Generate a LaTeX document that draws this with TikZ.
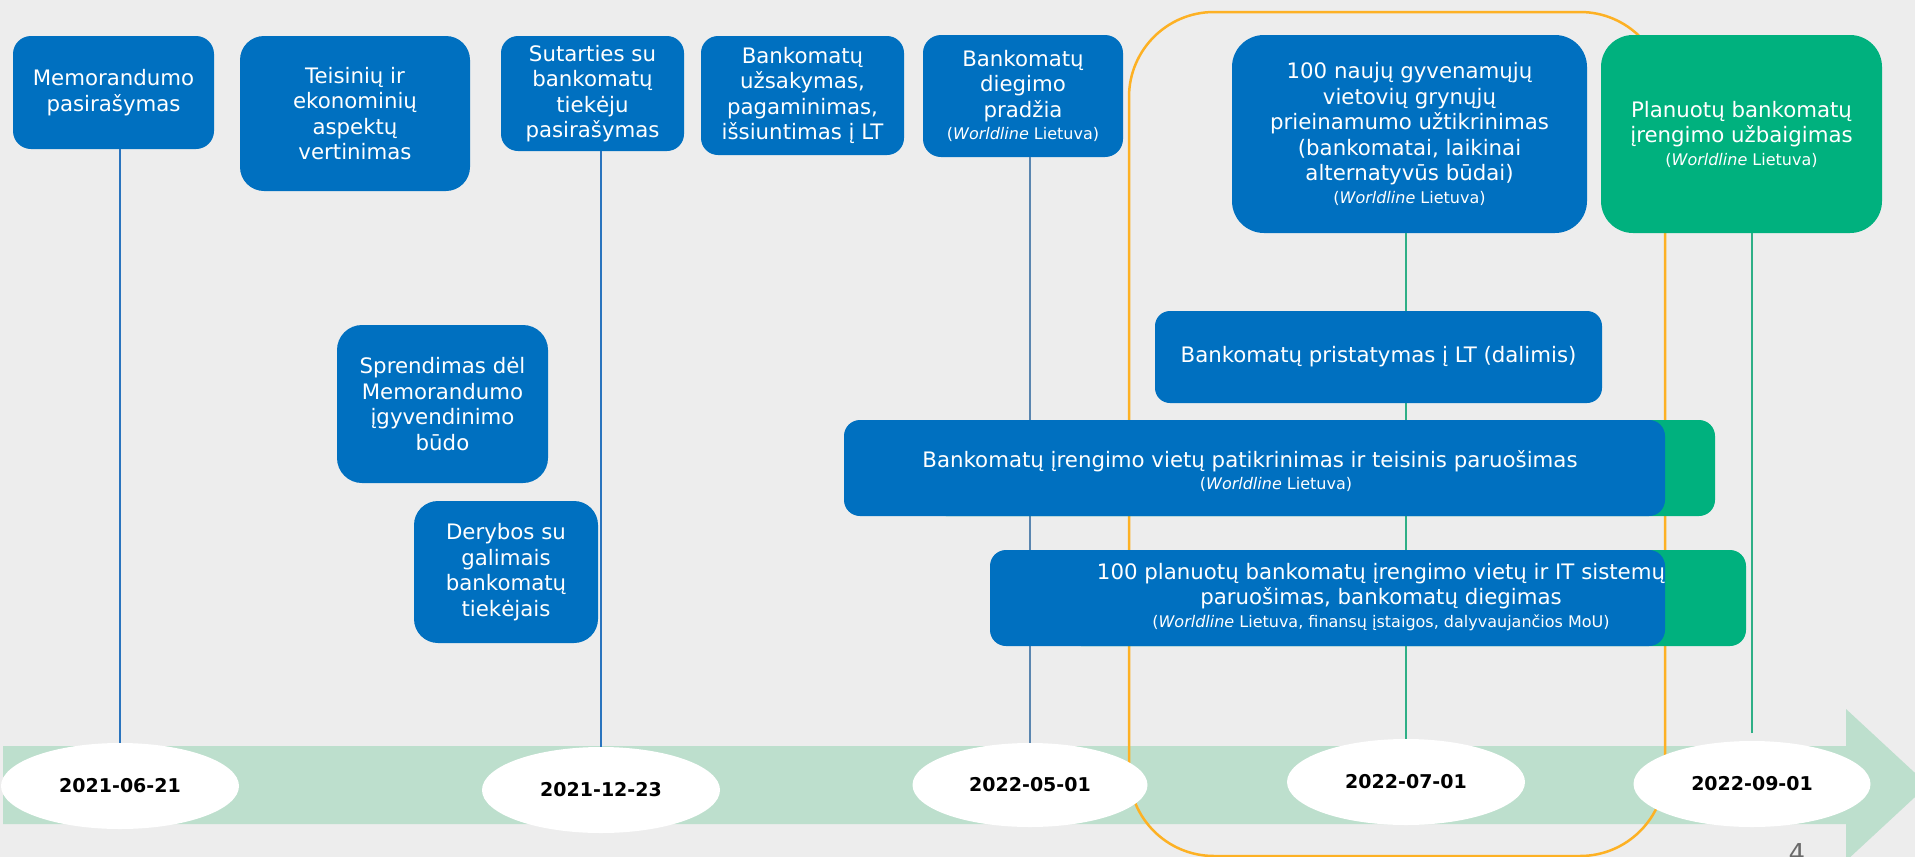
\documentclass[tikz,border=0pt]{standalone}
\usepackage{fontspec}
\setmainfont{DejaVu Sans}
\usetikzlibrary{shapes.geometric}
\definecolor{cbg}{HTML}{EDEDED}
\definecolor{cblue}{HTML}{0070C0}
\definecolor{cgreen}{HTML}{00B17E}
\definecolor{cband}{HTML}{BDDFCD}
\definecolor{corange}{HTML}{FDB124}
\definecolor{lblue}{HTML}{2A74BE}
\definecolor{lgray}{HTML}{5A86B0}
\definecolor{lgreen}{HTML}{2EAF86}
\definecolor{cpage}{HTML}{6A6A6A}
\newcommand{\mfont}{\fontsize{21.3}{25.5}\selectfont}
\newcommand{\sfont}{\fontsize{16}{19}\selectfont}
\newcommand{\dfont}{\fontsize{19}{22}\selectfont\bfseries}
\newcommand{\wlt}{{\sfont(\textit{Worldline} Lietuva)}}
\tikzset{
  box/.style={fill=cblue, text=white, align=center, inner sep=0pt, font=\mfont},
  gbox/.style={box, fill=cgreen},
  datenode/.style={ellipse, fill=white, inner sep=0pt, font=\dfont, text=black},
  tline/.style={line width=1.5pt},
  txt/.style={text=white, align=center, inner sep=0pt, font=\mfont},
}
\begin{document}
\begin{tikzpicture}[x=1pt,y=-1pt]
\useasboundingbox (0,0) rectangle (1915,857);
\clip (0,0) rectangle (1915,857);
\fill[cbg] (0,0) rectangle (1915,857);
% timeline band arrow
\fill[cband] (3,746) -- (1846,746) -- (1846,709) -- (1928,785) -- (1846,861) -- (1846,824) -- (3,824) -- cycle;
% orange frame
\draw[corange, line width=2.5pt, rounded corners=85pt] (1129,12) rectangle (1665,856);

% date ellipses
\node[datenode, minimum width=238pt, minimum height=86pt] (e1) at (120,786) {2021-06-21};
\node[datenode, minimum width=238pt, minimum height=86pt] (e2) at (601,790) {2021-12-23};
\node[datenode, minimum width=235pt, minimum height=84pt] (e3) at (1030,785) {2022-05-01};
\node[datenode, minimum width=238pt, minimum height=86pt] (e4) at (1406,782) {2022-07-01};
\node[datenode, minimum width=237pt, minimum height=86pt] (e5) at (1752,784) {2022-09-01};

% top boxes
\node[box, rounded corners=18pt, minimum width=201pt, minimum height=113pt] (mem) at (113.5,92.5) {Memorandumo\\pasirašymas};
\node[box, rounded corners=24pt, minimum width=230pt, minimum height=155pt] (teis) at (355,113.5) {Teisinių ir\\ekonominių\\aspektų\\vertinimas};
\node[box, rounded corners=17pt, minimum width=183pt, minimum height=115pt] (sut) at (592.5,93.5) {Sutarties su\\bankomatų\\tiekėju\\pasirašymas};
\node[box, rounded corners=17pt, minimum width=203pt, minimum height=119pt] (uzs) at (802.5,95.5) {Bankomatų\\užsakymas,\\pagaminimas,\\išsiuntimas į LT};
\node[box, rounded corners=18pt, minimum width=200pt, minimum height=122pt] (dieg) at (1023,96) {Bankomatų\\diegimo\\pradžia\\[-3pt]\wlt};
\node[box, rounded corners=32pt, minimum width=355pt, minimum height=198pt] (nauj) at (1409.5,134) {100 naujų gyvenamųjų\\vietovių grynųjų\\prieinamumo užtikrinimas\\(bankomatai, laikinai\\alternatyvūs būdai)\\[-3pt]\wlt};
\node[gbox, rounded corners=32pt, minimum width=281pt, minimum height=198pt] (plan) at (1741.5,134) {Planuotų bankomatų\\įrengimo užbaigimas\\[-3pt]\wlt};

% vertical connectors
\draw[tline, lblue] (e1.north) -- (e1.north |- mem.south);
\draw[tline, lblue] (e2.north) -- (e2.north |- sut.south);
\draw[tline, lgray] (e3.north) -- (e3.north |- dieg.south);
\draw[tline, lgreen] (e4.north) -- (e4.north |- nauj.south);
\coordinate (l5end) at (1752,733);
\draw[tline, lgreen] (l5end) -- (l5end |- plan.south);

% middle boxes
\node[box, rounded corners=25pt, minimum width=211pt, minimum height=158pt] (spr) at (442.5,404) {Sprendimas dėl\\Memorandumo\\įgyvendinimo\\būdo};
\node[box, rounded corners=24pt, minimum width=184pt, minimum height=142pt] (der) at (506,572) {Derybos su\\galimais\\bankomatų\\tiekėjais};
\node[box, rounded corners=15pt, minimum width=447pt, minimum height=92pt] (prist) at (1378.5,357) {Bankomatų pristatymas į LT (dalimis)};

\node[gbox, rounded corners=16pt, minimum width=785pt, minimum height=96pt] (patg) at (1322.5,468) {};
\node[box, rounded corners=16pt, minimum width=821pt, minimum height=96pt] (patb) at (1254.5,468) {};
\node[txt] (patt) at (1250,461) {Bankomatų įrengimo vietų patikrinimas ir teisinis paruošimas};
\node[txt] (pats) at (1276,484) {\wlt};

\node[gbox, rounded corners=16pt, minimum width=681pt, minimum height=96pt] (dgg) at (1405.5,598) {};
\node[box, rounded corners=16pt, minimum width=675pt, minimum height=96pt] (dgb) at (1327.5,598) {};
\node[txt] (dgt) at (1381,597) {100 planuotų bankomatų įrengimo vietų ir IT sistemų\\paruošimas, bankomatų diegimas\\[-3pt]{\sfont(\textit{Worldline} Lietuva, finansų įstaigos, dalyvaujančios MoU)}};

% page number (cut at the lower edge, as in the reference)
\node[anchor=north, inner sep=0pt, text=cpage, font=\fontsize{26}{30}\selectfont] (pg) at (1797,843) {4};
\end{tikzpicture}
\end{document}
